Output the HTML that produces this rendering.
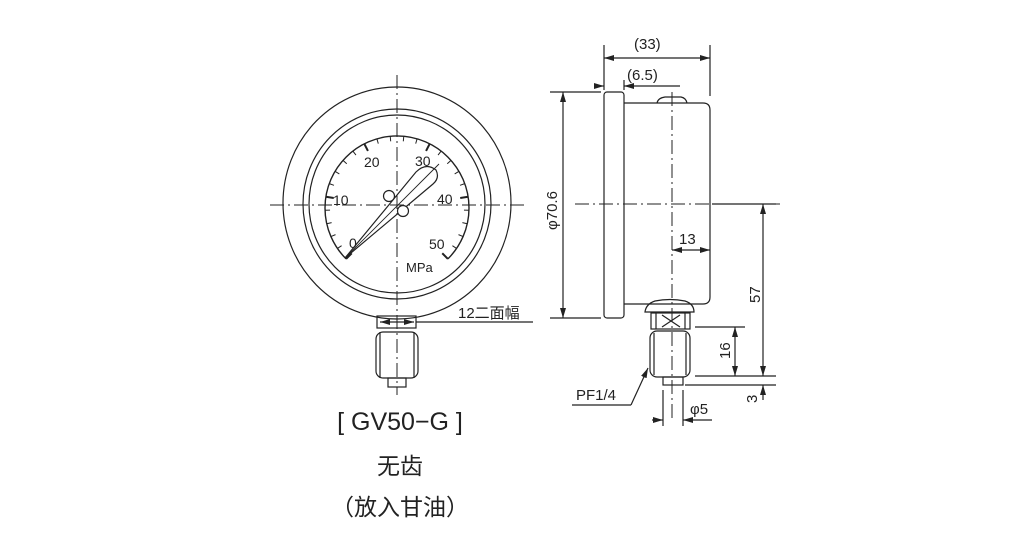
<!DOCTYPE html>
<html><head><meta charset="utf-8"><style>
html,body{margin:0;padding:0;background:#fff;}
svg{display:block;}
text{font-family:"Liberation Sans","Noto Sans CJK SC",sans-serif;fill:#222;}
</style></head><body>
<svg id="s" width="1019" height="543" viewBox="0 0 1019 543" xmlns="http://www.w3.org/2000/svg">
<defs><marker id="a" viewBox="0 0 10 6" refX="10" refY="3" markerWidth="10" markerHeight="6" orient="auto-start-reverse" markerUnits="userSpaceOnUse"><path d="M0,0 L10,3 L0,6z" fill="#222"/></marker></defs>
<g stroke="#222" fill="none" stroke-width="1.2">
<!-- front gauge -->
<ellipse cx="397" cy="203" rx="114" ry="116"/>
<ellipse cx="397" cy="204" rx="94" ry="95"/>
<ellipse cx="397" cy="204" rx="88" ry="89"/>
<path d="M346.1,258.9 A72,72 0 1 1 447.9,258.9" stroke-width="1.4"/>
<g id="ticks"></g>
<!-- needle -->
<path d="M345,258 L416,172 Q426,162 436,170 Q440,178 433,184 Z" fill="#fff"/>
<circle cx="389" cy="196" r="5.5" fill="#fff"/>
<circle cx="403" cy="211" r="5.5" fill="#fff"/>
<line x1="345" y1="258" x2="439" y2="164" stroke-width="0.9"/>
<!-- stem -->
<rect x="377" y="316" width="39" height="12"/>
<rect x="376" y="332" width="42" height="46" rx="7"/>
<line x1="380" y1="332" x2="380" y2="378"/><line x1="414" y1="332" x2="414" y2="378"/>
<rect x="388" y="378" width="18" height="9"/>
<line x1="416" y1="322" x2="533" y2="322"/>
<line x1="380" y1="322" x2="414" y2="322" marker-start="url(#a)" marker-end="url(#a)"/>
<!-- centerlines -->
<line x1="270" y1="205" x2="525" y2="205" stroke-dasharray="14,4,2,4" stroke-width="1"/>
<line x1="397" y1="75" x2="397" y2="395" stroke-dasharray="14,4,2,4" stroke-width="1"/>
<!-- side view -->
<rect x="604" y="92" width="20" height="226" rx="3"/>
<path d="M624,103 H703 Q710,103 710,110 V297 Q710,304 703,304 H624"/>
<path d="M657,103 Q658,98 665,97 H681 Q686,98 687,103"/>
<path d="M645,312 Q646,304 655,301 Q670,298 685,301 Q694,304 694,312 Z"/>
<rect x="651" y="313" width="39" height="16"/>
<line x1="656" y1="313" x2="656" y2="329"/><line x1="685" y1="313" x2="685" y2="329"/>
<path d="M662,315 L680,327 M680,315 L662,327"/>
<rect x="650" y="331" width="40" height="46" rx="7"/>
<line x1="654" y1="333" x2="654" y2="375"/><line x1="686" y1="333" x2="686" y2="375"/>
<rect x="663" y="377" width="20" height="8"/>
<line x1="575" y1="204" x2="780" y2="204" stroke-dasharray="14,4,2,4" stroke-width="1"/>
<line x1="672" y1="92" x2="672" y2="420" stroke-dasharray="14,4,2,4" stroke-width="1"/>
<!-- dims -->
<line x1="604" y1="45" x2="604" y2="90"/><line x1="710" y1="45" x2="710" y2="96"/>
<line x1="604" y1="58" x2="710" y2="58" marker-start="url(#a)" marker-end="url(#a)"/>
<line x1="624" y1="80" x2="624" y2="90"/>
<line x1="596" y1="86" x2="604" y2="86" marker-end="url(#a)"/>
<line x1="680" y1="86" x2="624" y2="86" marker-end="url(#a)"/>
<line x1="550" y1="92" x2="601" y2="92"/><line x1="550" y1="318" x2="601" y2="318"/>
<line x1="563" y1="92" x2="563" y2="318" marker-start="url(#a)" marker-end="url(#a)"/>
<line x1="672" y1="250" x2="710" y2="250" marker-start="url(#a)" marker-end="url(#a)"/>
<line x1="712" y1="204" x2="776" y2="204"/>
<line x1="763" y1="204" x2="763" y2="376" marker-start="url(#a)" marker-end="url(#a)"/>
<line x1="695" y1="327" x2="745" y2="327"/>
<line x1="695" y1="376" x2="776" y2="376"/>
<line x1="735" y1="327" x2="735" y2="376" marker-start="url(#a)" marker-end="url(#a)"/>
<line x1="685" y1="385" x2="776" y2="385"/>
<line x1="763" y1="400" x2="763" y2="385" marker-end="url(#a)"/>
<line x1="663" y1="390" x2="663" y2="426"/><line x1="683" y1="390" x2="683" y2="426"/>
<line x1="652" y1="420" x2="663" y2="420" marker-end="url(#a)"/>
<line x1="712" y1="420" x2="683" y2="420" marker-end="url(#a)"/>
<line x1="572" y1="405" x2="631" y2="405"/>
<line x1="631" y1="405" x2="648" y2="368" marker-end="url(#a)"/>
</g>
<g font-size="14">
<text x="349" y="248">0</text><text x="333" y="205">10</text><text x="364" y="167">20</text><text x="415" y="166">30</text><text x="437" y="204">40</text><text x="429" y="249">50</text>
<text x="406" y="272" font-size="13">MPa</text>
<text x="458" y="318" font-size="15">12二面幅</text>
<text x="634" y="49" font-size="15">(33)</text>
<text x="627" y="80" font-size="15">(6.5)</text>
<text x="679" y="244" font-size="15">13</text>
<text x="576" y="400" font-size="15">PF1/4</text>
<text x="690" y="414" font-size="15">φ5</text>
<text font-size="15" transform="translate(557,230) rotate(-90)">φ70.6</text>
<text font-size="15" transform="translate(760,303) rotate(-90)">57</text>
<text font-size="15" transform="translate(730,359) rotate(-90)">16</text>
<text font-size="15" transform="translate(757,403) rotate(-90)">3</text>
</g>
<text x="400" y="430" font-size="25" text-anchor="middle">[ GV50−G ]</text>
<text x="400" y="474" font-size="23" text-anchor="middle">无齿</text>
<text x="400" y="515" font-size="23" text-anchor="middle">（放入甘油）</text>
</svg>
<script>
var g=document.getElementById('ticks'),s='';
for(var i=0;i<=25;i++){var ang=(225-i*10.8)*Math.PI/180,c=Math.cos(ang),n=Math.sin(ang);
var L=(i%5==0)?8:5,r1=72,r2=72-L;
s+='<line x1="'+(397+r1*c)+'" y1="'+(208-r1*n)+'" x2="'+(397+r2*c)+'" y2="'+(208-r2*n)+'" stroke-width="'+(i%5==0?2:1)+'"/>';}
g.innerHTML=s;
</script>
</body></html>
